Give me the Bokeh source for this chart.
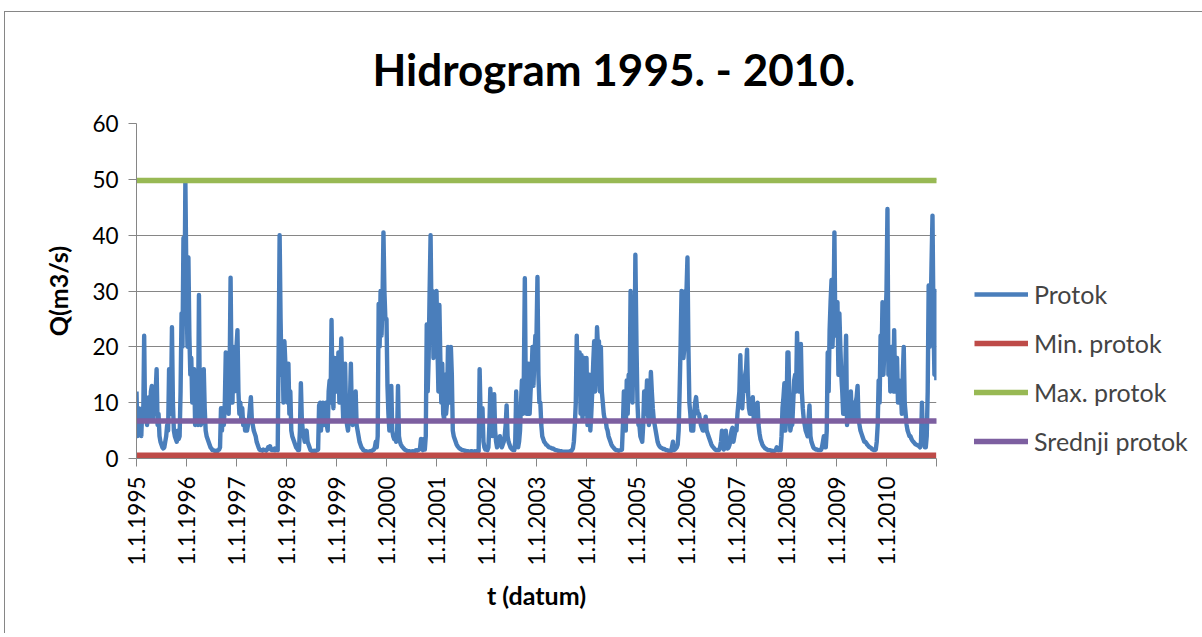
import numpy as np
from bokeh.plotting import figure
from bokeh.models import Range1d, FixedTicker, Legend, LegendItem
from bokeh.embed import file_html
from bokeh.resources import INLINE

# ---------------- data (weekly readings, Q in m3/s) ----------------
years = list(range(1995, 2011))

q1995 = [12, 4, 9, 5, 8, 4, 9, 7, 22, 7, 10, 6, 8, 11, 7, 12, 13, 7, 12, 8, 12, 16, 6, 8, 4, 3,
         2.5, 2, 1.8, 2, 3, 4, 6, 5, 16, 8, 10, 23.5, 10, 5, 4, 3.5, 3, 5, 3.5, 4, 12, 26, 20, 39.5, 25, 49.7]
q1996 = [30, 20, 36, 22, 15, 18, 10, 12, 16, 6, 8, 10, 6, 29.3, 8, 6, 7, 12, 16, 9, 5, 4, 3.5, 3, 2.5, 2,
         1.8, 1.5, 1.5, 1.4, 1.3, 1.4, 1.3, 1.5, 1.6, 2, 9, 5, 9, 6, 10, 19, 9, 12, 8, 15, 32.4, 15, 10, 20, 12, 18]
q1997 = [20, 23, 12, 8, 10, 7, 9, 6, 7, 5, 6, 5, 6, 7, 9, 11, 7, 6, 5, 4.5, 4, 3, 2.5, 2, 1.6, 1.5,
         1.5, 1.4, 1.6, 1.5, 1.5, 1.4, 1.6, 2, 1.8, 2.2, 1.6, 1.5, 1.6, 1.5, 1.8, 1.5, 1.6, 1.5, 20, 40, 25, 15, 20, 10, 21, 17]
q1998 = [17, 10, 17, 8, 12, 5, 4, 3.5, 3, 2.5, 2, 1.8, 1.5, 1.5, 5, 13.5, 7, 5, 4, 3, 4, 5, 3, 2.5, 2, 1.5,
         1.4, 1.3, 1.3, 1.4, 1.3, 1.4, 1.5, 1.6, 9.5, 10, 5, 9, 10, 6, 9, 10, 6, 5, 12, 14, 10, 24.8, 12, 9, 18, 12]
q1999 = [18, 12, 19, 10, 15, 21.5, 12, 7, 10, 17, 8, 6, 5, 7, 10, 17, 8, 6, 7, 9, 12, 6, 5, 4, 3, 2.5,
         2, 1.8, 1.5, 1.4, 1.3, 1.3, 1.2, 1.2, 1.2, 1.3, 1.2, 1.4, 1.5, 1.6, 2, 3, 2, 4, 27.7, 20, 30, 22, 28, 40.5, 30, 25]
q2000 = [25, 13, 8, 5, 6, 13, 5, 4, 3.5, 4, 3, 3.5, 13, 4, 3, 2.5, 2.2, 2, 1.8, 1.6, 1.5, 1.4, 1.3, 1.3, 1.3, 1.2,
         1.2, 1.3, 1.2, 1.3, 1.4, 1.5, 1.4, 1.5, 1.6, 1.8, 3.5, 1.8, 1.5, 3.5, 1.6, 4, 24, 12, 18, 30, 40, 25, 30, 18, 22, 28]
q2001 = [30, 20, 12, 27.5, 18, 10, 17, 8, 7, 15, 8, 10, 20, 12, 10, 20, 15, 5, 4, 3.5, 3, 2.5, 2.2, 2, 1.8, 1.7,
         1.6, 1.5, 1.5, 1.4, 1.4, 1.3, 1.3, 1.3, 1.2, 1.2, 1.3, 1.3, 1.2, 1.2, 1.3, 1.2, 1.3, 1.4, 1.3, 16, 8, 4, 9, 3, 2, 1.6]
q2002 = [1.6, 1.5, 2, 6, 12.5, 8, 4, 7, 11.5, 5, 3, 2, 2.5, 3, 4, 2.5, 2, 2.5, 3, 4, 6, 9.5, 4, 3, 2.5, 2,
         1.8, 1.6, 1.5, 1.5, 3, 12, 4, 2, 3, 5, 10, 14, 8, 15, 32.3, 12, 8, 10, 17, 8, 12, 15, 20, 13, 18, 22]
q2003 = [22, 32.5, 15, 10, 10, 6, 4, 3.5, 3, 2.8, 2.5, 2.4, 2.2, 2, 2, 1.9, 1.8, 1.8, 1.7, 1.6, 1.5, 1.5, 1.4, 1.4, 1.3, 1.3,
         1.3, 1.2, 1.2, 1.2, 1.2, 1.2, 1.2, 1.2, 1.2, 1.3, 1.3, 1.5, 1.8, 3, 6, 10, 22, 13, 12, 19, 8, 18.5, 7, 12, 18, 8]
q2004 = [18, 6, 12, 15, 5, 8, 12, 17, 21, 12, 16, 23.5, 20, 21, 12, 20, 12, 10, 8, 7, 7, 5.5, 5, 4, 3.5, 3,
         2.5, 2.2, 2, 1.8, 1.6, 1.5, 1.5, 1.4, 1.4, 1.5, 1.5, 1.6, 6, 12, 10, 5, 14, 8, 15, 12, 30, 15, 10, 20, 15, 36.5]
q2005 = [20, 10, 6, 6, 4, 3.5, 3, 6, 12, 8, 10, 14, 8, 6, 10, 15.5, 12, 9, 7, 6, 5, 4, 3, 2.5, 2.2, 2,
         1.9, 1.8, 1.7, 1.7, 1.6, 1.5, 1.5, 1.4, 1.3, 1.3, 1.3, 2, 3, 1.5, 1.6, 1.8, 2, 2.5, 5, 12, 20, 30, 25, 18, 20, 30]
q2006 = [30, 36, 20, 10, 8, 5, 6, 5, 8, 10, 11, 9, 8, 8, 7, 6, 5.5, 5, 5, 6, 7.5, 5, 4.5, 4, 3.5, 3,
         2.5, 2.2, 2, 1.8, 1.6, 1.5, 1.5, 1.5, 1.5, 2, 3, 5, 2, 1.6, 3, 5, 2, 1.8, 2, 2.5, 4, 5, 5.5, 3, 4, 5]
q2007 = [5, 8, 10, 12, 18.5, 10, 9, 12, 12, 15, 16, 19.5, 12, 9, 8, 8, 9, 11, 7, 7, 8, 9, 10, 6, 4.5, 3.5,
         3, 2.5, 2.2, 2, 1.8, 1.7, 1.6, 1.5, 1.5, 1.5, 1.4, 1.4, 1.3, 1.3, 1.4, 1.5, 2, 1.8, 1.5, 1.6, 1.5, 4, 9, 11, 13.5, 5]
q2008 = [8, 19, 19, 10, 5, 6, 6, 10, 14, 15, 12, 22.5, 15, 12, 16, 20.5, 12, 9, 7, 6, 5, 4.5, 4, 7, 9.5, 4,
         3, 2.5, 2, 1.8, 1.7, 1.6, 1.6, 1.5, 1.5, 1.5, 1.5, 2, 3, 4, 2, 2, 5, 19, 12, 23, 28, 32, 20, 25, 40.5, 22]
q2009 = [22, 28, 15, 26, 20, 15, 12, 8, 8, 14, 22, 6, 8, 10, 9, 12, 7, 8, 10, 7, 10, 11, 13, 7, 6, 5,
         4.5, 4, 3.5, 3, 3, 2.8, 2.5, 2.3, 2.1, 2, 1.9, 1.7, 1.6, 1.5, 1.5, 1.6, 3, 6, 14, 10, 22, 18, 28, 15, 20, 24]
q2010 = [30, 44.7, 15, 20, 12, 20, 17, 12, 23, 12, 15, 18, 10, 14, 10, 12, 8, 15, 20, 10, 8, 6, 5, 4.5, 4, 4,
         3.5, 3.2, 3, 2.8, 2.6, 2.5, 2.4, 2.3, 2.2, 2, 3, 10, 4, 3, 2, 2, 4, 12, 31, 20, 25, 35, 43.5, 25, 15, 30, 14]

protok_by_year = [q1995, q1996, q1997, q1998, q1999, q2000, q2001, q2002,
                  q2003, q2004, q2005, q2006, q2007, q2008, q2009, q2010]

min_protok = 0.6
max_protok = 49.8
srednji_protok = 6.7

y_ticks = [0, 10, 20, 30, 40, 50, 60]
x_tick_years = list(range(1995, 2012))
x_tick_labels = ["1.1.%d" % y for y in range(1995, 2011)] + [""]

series_names = ["Protok", "Min. protok", "Max. protok", "Srednji protok"]
series_colors = ["#4A7EBB", "#BE4B48", "#98B954", "#7D5FA0"]

# ---------------- build x (fractional year, weekly) ----------------
xs, qs = [], []
for yr, vals in zip(years, protok_by_year):
    for i, v in enumerate(vals):
        xs.append(yr + 7 * i / 365.25)
        qs.append(v)
x_first, x_last = xs[0], xs[-1]

p = figure(frame_width=800, frame_height=335,
           min_border_left=131, min_border_right=262,
           min_border_top=111, min_border_bottom=175,
           x_range=Range1d(1995, 2011), y_range=Range1d(0, 60),
           output_backend="svg", toolbar_location=None)
p.styles = {"margin-left": "4px", "margin-top": "11px",
            "border-left": "1px solid #868686", "border-top": "1px solid #868686"}

r_q = p.line(xs, qs, line_color=series_colors[0], line_width=4.4, line_join="round")
r_min = p.line([x_first, x_last], [min_protok, min_protok], line_color=series_colors[1], line_width=5.5)
r_max = p.line([x_first, x_last], [max_protok, max_protok], line_color=series_colors[2], line_width=5.5, line_cap="round")
r_avg = p.line([x_first, x_last], [srednji_protok, srednji_protok], line_color=series_colors[3], line_width=5.5, line_cap="round")

# title
p.title.text = "Hidrogram 1995. - 2010."
p.title.text_font = "Lato"
p.title.text_font_style = "bold"
p.title.text_font_size = "44px"
p.title.text_color = "black"
p.title.align = "left"
p.title.offset = 236
p.title.standoff = 57

# axes
p.outline_line_color = None
p.xgrid.visible = False
p.ygrid.grid_line_color = "#868686"
p.ygrid.grid_line_width = 1

for ax in (p.xaxis[0], p.yaxis[0]):
    ax.axis_line_color = "#868686"
    ax.major_tick_line_color = "#868686"
    ax.major_tick_in = 0
    ax.major_tick_out = 8
    ax.minor_tick_in = 0
    ax.minor_tick_out = 0
    ax.major_label_text_font = "Lato"
    ax.major_label_text_font_size = "22.5px"
    ax.major_label_text_color = "black"
    ax.axis_label_text_font = "Lato"
    ax.axis_label_text_font_style = "bold"
    ax.axis_label_text_font_size = "25px"
    ax.axis_label_text_color = "black"

p.yaxis.ticker = FixedTicker(ticks=y_ticks)
p.yaxis.axis_label = "Q(m3/s)"
p.yaxis.major_label_standoff = 10
p.yaxis.axis_label_standoff = 16

p.xaxis.ticker = FixedTicker(ticks=x_tick_years)
p.xaxis.major_label_overrides = dict(zip(x_tick_years, x_tick_labels))
p.xaxis.major_label_orientation = np.pi / 2
p.xaxis.major_label_standoff = 10
p.xaxis.axis_label = "t (datum)"
p.xaxis.axis_label_standoff = 12

legend = Legend(items=[LegendItem(label=n, renderers=[r]) for n, r in
                       zip(series_names, [r_q, r_min, r_max, r_avg])],
                location=(38, 2))
legend.border_line_color = None
legend.background_fill_alpha = 0
legend.padding = 0
legend.margin = 0
legend.spacing = 19
legend.glyph_width = 54
legend.glyph_height = 20
legend.label_height = 20
legend.label_standoff = 6
legend.label_text_font = "Lato"
legend.label_text_font_size = "25px"
p.add_layout(legend, "right")

open("out.html", "w").write(file_html(p, INLINE))
